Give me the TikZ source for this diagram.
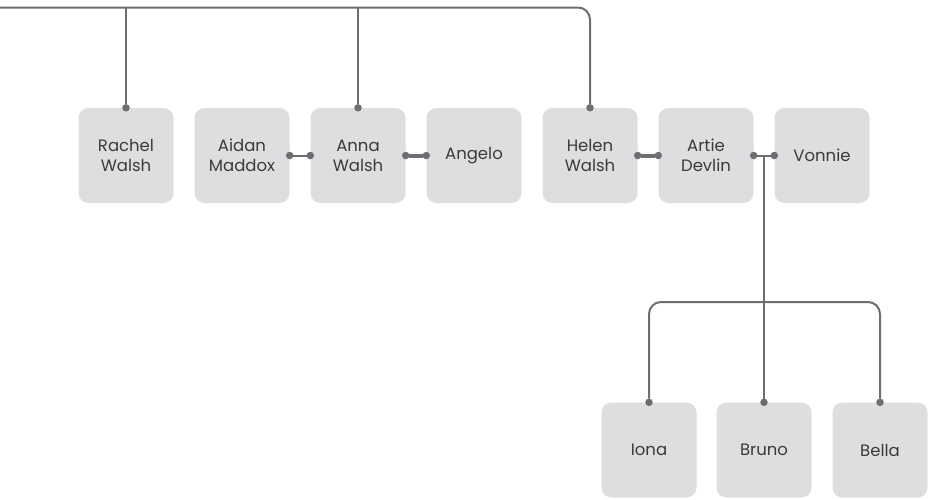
\documentclass[tikz,border=0pt]{standalone}
\usepackage{fontspec}
\setmainfont{Poppins}
\usetikzlibrary{arrows.meta}

\definecolor{boxgray}{HTML}{DDDEDF}
\definecolor{linegray}{HTML}{6D6E71}
\definecolor{namegray}{HTML}{3A3A3C}

\begin{document}
\begin{tikzpicture}[x=1pt,y=-1pt]
  \tikzstyle{every node}=[font=\fontsize{16.5}{20}\selectfont]
  \tikzstyle{person}=[fill=boxgray, text=namegray, rounded corners=10pt,
    minimum width=95pt, minimum height=95pt, align=center, inner sep=0pt]
  \tikzstyle{famline}=[draw=linegray, line width=2pt, rounded corners=12pt]
  \tikzstyle{drop}=[famline, -{Circle[length=7.5pt, line width=0pt]},
    shorten >=-3.75pt]
  \tikzstyle{couple}=[famline,
    {Circle[length=7.5pt, line width=0pt]}-{Circle[length=7.5pt, line width=0pt]},
    shorten >=-3.75pt, shorten <=-3.75pt]
  \tikzstyle{married}=[couple, line width=4pt]

  \useasboundingbox (0,0) rectangle (929,499);

  % first generation row
  \node[person] (rachel) at (126,155.5) {Rachel\\Walsh};
  \node[person] (aidan) at (242,155.5) {Aidan\\Maddox};
  \node[person] (anna) at (358,155.5) {Anna\\Walsh};
  \node[person] (angelo) at (474,155.5) {Angelo};
  \node[person] (helen) at (590,155.5) {Helen\\Walsh};
  \node[person] (artie) at (706,155.5) {Artie\\Devlin};
  \node[person] (vonnie) at (822,155.5) {Vonnie};

  % children
  \node[person] (iona) at (649,450) {Iona};
  \node[person] (bruno) at (764,450) {Bruno};
  \node[person] (bella) at (880,450) {Bella};

  \coordinate (parents) at (0,7.5);
  \coordinate (kids) at (764,302);

  \draw[drop] (parents) -| (helen.north);
  \draw[drop] (rachel.north |- parents) -- (rachel.north);
  \draw[drop] (anna.north |- parents) -- (anna.north);

  \draw[couple] (aidan.east) -- (anna.west);
  \draw[married] (anna.east) -- (angelo.west);
  \draw[married] (helen.east) -- (artie.west);
  \draw[couple] (artie.east) -- (vonnie.west);

  \draw[drop] (bruno.north |- artie.east) -- (bruno.north);
  \draw[drop] (kids) -| (iona.north);
  \draw[drop] (kids) -| (bella.north);
\end{tikzpicture}
\end{document}
